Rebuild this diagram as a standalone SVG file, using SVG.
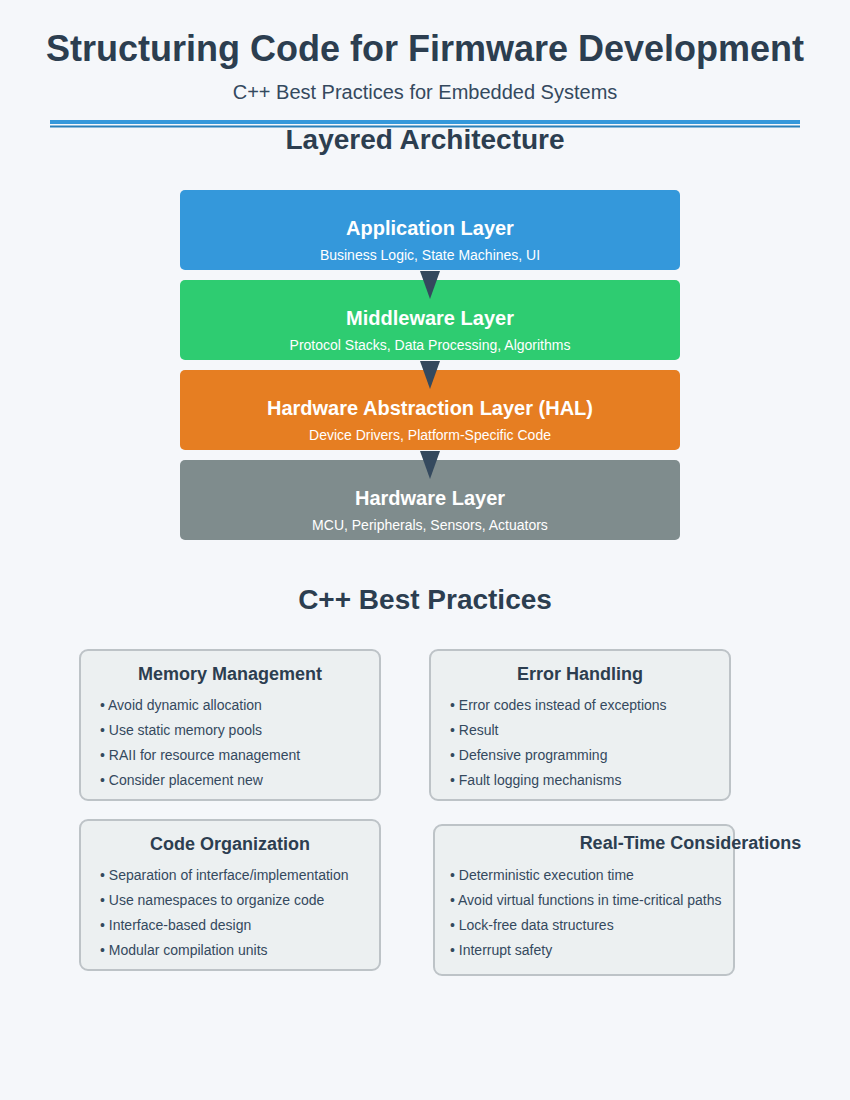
<svg xmlns="http://www.w3.org/2000/svg" width="850" height="1100" viewBox="0 0 850 1100">
<style>
text{font-family:"Liberation Sans",Arial,sans-serif}
.h1{font-size:36px;font-weight:bold;fill:#2c3e50;text-anchor:middle}
.sub{font-size:20px;fill:#34495e;text-anchor:middle}
.h2{font-size:28px;font-weight:bold;fill:#2c3e50;text-anchor:middle}
.lt{font-size:20px;font-weight:bold;fill:#ffffff;text-anchor:middle}
.ls{font-size:14px;fill:#ffffff;text-anchor:middle}
.box{fill:#ecf0f1;stroke:#bdc3c7;stroke-width:2}
.bt{font-size:18px;font-weight:bold;fill:#2c3e50;text-anchor:middle}
.bl{font-size:14px;fill:#34495e}
.arr{fill:#34495e}
</style>
<rect width="850" height="1100" fill="#f5f7fa"/>
<g id="header">
<text class="h1" x="425" y="61">Structuring Code for Firmware Development</text>
<text class="sub" x="425" y="99">C++ Best Practices for Embedded Systems</text>
<rect x="50" y="120" width="750" height="4" fill="#3498db"/>
<rect x="50" y="125.5" width="750" height="2" fill="#2980b9"/>
<text class="h2" x="425" y="149">Layered Architecture</text>
</g>
<g id="layer-app">
<rect x="180" y="190" width="500" height="80" rx="5" fill="#3498db"/>
<text class="lt" x="430" y="235">Application Layer</text>
<text class="ls" x="430" y="260">Business Logic, State Machines, UI</text>
</g>
<g id="layer-mid">
<rect x="180" y="280" width="500" height="80" rx="5" fill="#2ecc71"/>
<text class="lt" x="430" y="325">Middleware Layer</text>
<text class="ls" x="430" y="350">Protocol Stacks, Data Processing, Algorithms</text>
</g>
<g id="layer-hal">
<rect x="180" y="370" width="500" height="80" rx="5" fill="#e67e22"/>
<text class="lt" x="430" y="415">Hardware Abstraction Layer (HAL)</text>
<text class="ls" x="430" y="440">Device Drivers, Platform-Specific Code</text>
</g>
<g id="layer-hw">
<rect x="180" y="460" width="500" height="80" rx="5" fill="#7f8c8d"/>
<text class="lt" x="430" y="505">Hardware Layer</text>
<text class="ls" x="430" y="530">MCU, Peripherals, Sensors, Actuators</text>
</g>
<g id="connectors">
<polygon class="arr" points="420,271 440,271 430,299"/>
<polygon class="arr" points="420,361 440,361 430,389"/>
<polygon class="arr" points="420,451 440,451 430,479"/>
</g>
<text class="h2" x="425" y="609">C++ Best Practices</text>
<g id="memory">
<rect class="box" x="80" y="650" width="300" height="150" rx="8"/>
<text class="bt" x="230" y="680">Memory Management</text>
<text class="bl" x="100" y="710">• Avoid dynamic allocation</text>
<text class="bl" x="100" y="735">• Use static memory pools</text>
<text class="bl" x="100" y="760">• RAII for resource management</text>
<text class="bl" x="100" y="785">• Consider placement new</text>
</g>
<g id="error">
<rect class="box" x="430" y="650" width="300" height="150" rx="8"/>
<text class="bt" x="580" y="680">Error Handling</text>
<text class="bl" x="450" y="710">• Error codes instead of exceptions</text>
<text class="bl" x="450" y="735">• Result</text>
<text class="bl" x="450" y="760">• Defensive programming</text>
<text class="bl" x="450" y="785">• Fault logging mechanisms</text>
</g>
<g id="code-org">
<rect class="box" x="80" y="820" width="300" height="150" rx="8"/>
<text class="bt" x="230" y="850">Code Organization</text>
<text class="bl" x="100" y="880">• Separation of interface/implementation</text>
<text class="bl" x="100" y="905">• Use namespaces to organize code</text>
<text class="bl" x="100" y="930">• Interface-based design</text>
<text class="bl" x="100" y="955">• Modular compilation units</text>
</g>
<g id="realtime">
<rect class="box" x="434" y="825" width="300" height="150" rx="8"/>
<text class="bt" x="690.5" y="849">Real-Time Considerations</text>
<text class="bl" x="450" y="880">• Deterministic execution time</text>
<text class="bl" x="450" y="905">• Avoid virtual functions in time-critical paths</text>
<text class="bl" x="450" y="930">• Lock-free data structures</text>
<text class="bl" x="450" y="955">• Interrupt safety</text>
</g>
</svg>
